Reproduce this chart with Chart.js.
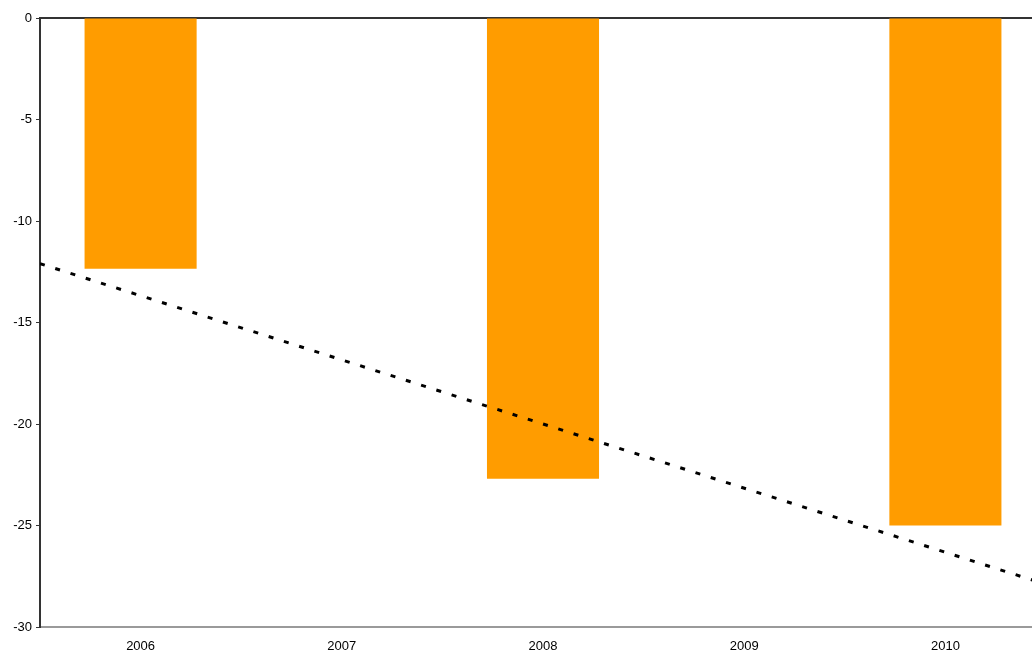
<!DOCTYPE html>
<html>
<head>
<meta charset="utf-8">
<script src="https://cdn.jsdelivr.net/npm/chart.js@4/dist/chart.umd.min.js"></script>
<style>
    html, body { margin: 0; padding: 0; background: #fff; overflow: hidden; }
    #clip { width: 1032px; height: 650px; overflow: hidden; }
    /* the plot runs past the right edge of the picture, as in the reference */
    #wrap { width: 1046px; height: 650px; }
</style>
</head>
<body>
<div id="clip"><div id="wrap"><canvas id="chart"></canvas></div></div>
<script>
// Chart data
const years = ['2006', '2007', '2008', '2009', '2010'];
const barValues = [-12.35, null, -22.7, null, -25.0];
// dashed trend line, values at the left and right edges of the plot
const trendX = [-0.5, 4.5];
const trendValues = [-12.1, -27.9];
const yTicks = [0, -5, -10, -15, -20, -25, -30];

const font = { family: "'Liberation Sans', Arial, sans-serif", size: 13 };

new Chart(document.getElementById('chart').getContext('2d'), {
    type: 'bar',
    data: {
        labels: years,
        datasets: [{
            type: 'bar',
            xAxisID: 'x',
            data: barValues,
            backgroundColor: '#FF9C00',
            borderWidth: 0,
            grouped: false,
            categoryPercentage: 1,
            barPercentage: 0.557,
            order: 2
        }, {
            type: 'line',
            xAxisID: 'x2',
            data: trendX.map((x, i) => ({ x: x, y: trendValues[i] })),
            borderColor: '#000',
            borderWidth: 3,
            borderDash: [5, 11],
            pointRadius: 0,
            fill: false,
            order: 1
        }]
    },
    options: {
        responsive: true,
        maintainAspectRatio: false,
        animation: false,
        layout: { padding: { top: 18, right: 0, left: 0, bottom: 0 } },
        plugins: {
            legend: { display: false },
            tooltip: { enabled: false }
        },
        scales: {
            x: {
                type: 'category',
                position: 'bottom',
                offset: true,
                grid: { display: false, offset: true },
                border: { color: '#9a9a9a', width: 2 },
                ticks: { color: '#000', font: font, padding: 4, maxRotation: 0 },
                afterFit: (scale) => { scale.height = 23; }
            },
            x2: {
                type: 'linear',
                position: 'top',
                offset: false,
                min: trendX[0],
                max: trendX[1],
                grid: { drawOnChartArea: false, offset: false, tickLength: 0, color: 'rgba(0,0,0,0)' },
                border: { color: '#333', width: 2 },
                ticks: { display: false },
                afterFit: (scale) => { scale.height = 0; }
            },
            y: {
                min: -30,
                max: 0,
                afterBuildTicks: (scale) => {
                    scale.ticks = yTicks.map(v => ({ value: v }));
                },
                grid: { drawOnChartArea: false, tickLength: 4, color: '#333' },
                border: { color: '#333', width: 2 },
                ticks: { color: '#000', font: font, padding: 4 },
                afterFit: (scale) => { scale.width = 40; }
            }
        }
    }
});
</script>
</body>
</html>
